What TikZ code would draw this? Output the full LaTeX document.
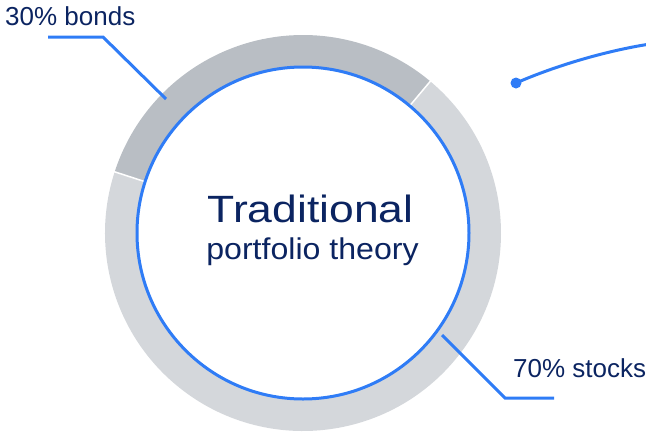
\documentclass[tikz,border=0pt]{standalone}
\usepackage{fontspec}
\usetikzlibrary{calc}
\setmainfont{Liberation Sans}
\definecolor{lblue}{HTML}{2F7CF6}
\definecolor{navy}{HTML}{0B2461}
\definecolor{bondgray}{HTML}{B9BEC4}
\definecolor{stockgray}{HTML}{D4D7DB}
\tikzset{
  leader/.style={draw=lblue, line width=3pt, line join=miter},
  lbl/.style={text=navy, inner sep=0pt, anchor=base west, font=\fontsize{26}{30}\selectfont},
  ttl/.style={text=navy, inner sep=0pt, anchor=base},
}
\begin{document}
\begin{tikzpicture}[x=1pt, y=-1pt]
\useasboundingbox (0,0) rectangle (646,432);
\coordinate (c) at (303,233);
\def\Ro{198}
\def\Ri{166}
% bonds segment (visual 50deg to 162deg)
\fill[bondgray] ($(c)+(-162:\Ro)$) arc[start angle=-162, end angle=-50, radius=\Ro]
  -- ($(c)+(-50:\Ri)$) arc[start angle=-50, end angle=-162, radius=\Ri] -- cycle;
% stocks segment
\fill[stockgray] ($(c)+(-50:\Ro)$) arc[start angle=-50, end angle=198, radius=\Ro]
  -- ($(c)+(198:\Ri)$) arc[start angle=198, end angle=-50, radius=\Ri] -- cycle;
% separators
\draw[white, line width=1.5pt] ($(c)+(-50:\Ri)$) -- ($(c)+(-50:\Ro+1)$);
\draw[white, line width=1.5pt] ($(c)+(-162:\Ri)$) -- ($(c)+(-162:\Ro+1)$);
% inner circle
\fill[white] (c) circle[radius=\Ri];
\draw[lblue, line width=3pt] (c) circle[radius=\Ri];
% title
\node[ttl, font=\fontsize{38}{40}\selectfont] (t1) at (310.5,222) {\scalebox{1.17}[1]{Traditional}};
\node[ttl, font=\fontsize{30}{32}\selectfont] (t2) at (312.5,259) {\scalebox{1.07}[1]{portfolio theory}};
% labels
\node[lbl] (bonds) at (5,25) {30\% bonds};
\node[lbl] (stocks) at (513,377) {70\% stocks};
% leaders
\coordinate (b1) at (48,37);
\coordinate (b2) at (103,37);
\coordinate (b3) at (166,99);
\draw[leader] (b1) -- (b2) -- (b3);
\coordinate (s1) at (442,335);
\coordinate (s2) at (505,398);
\coordinate (s3) at (554,398);
\draw[leader] (s1) -- (s2) -- (s3);
% top-right curve with dot
\coordinate (d) at (516,83);
\coordinate (e) at (650,44);
\fill[lblue] (d) circle[radius=5.5];
\draw[lblue, line width=3pt] (d) .. controls (555,66) and (605,51) .. (e);
\end{tikzpicture}
\end{document}
